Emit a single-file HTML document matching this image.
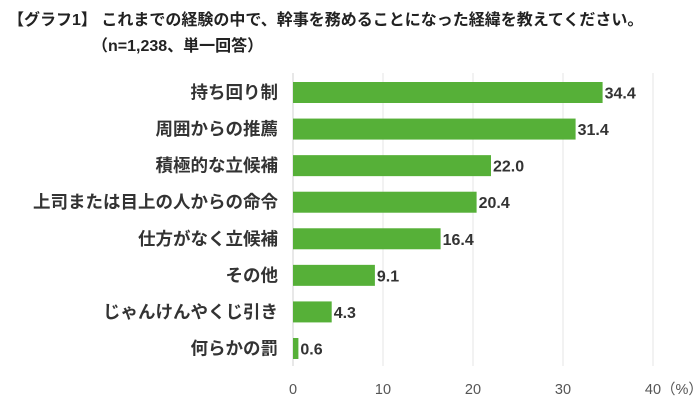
<!DOCTYPE html>
<html><head><meta charset="utf-8"><style>
body{margin:0;background:#fff;}
svg{display:block;font-family:"Liberation Sans","Noto Sans CJK JP",sans-serif;}
</style></head><body>
<svg id="chart" width="700" height="417" viewBox="0 0 700 417">
<text x="8" y="25" font-size="16" font-weight="bold" fill="#222">【グラフ1】 これまでの経験の中で、幹事を務めることになった経緯を教えてください。</text>
<text x="92" y="51" font-size="16" font-weight="bold" fill="#222">（n=1,238、単一回答）</text>
<g id="grid"></g><g id="bars"></g><g id="labels"></g>
</svg>
<script>
const categories=["持ち回り制","周囲からの推薦","積極的な立候補","上司または目上の人からの命令","仕方がなく立候補","その他","じゃんけんやくじ引き","何らかの罰"];
const values=[34.4,31.4,22.0,20.4,16.4,9.1,4.3,0.6];
const ticks=[0,10,20,30,40];
const NS="http://www.w3.org/2000/svg";
const x0=293,pxPer=9,y0=92.5,step=36.57,bh=21;
const xs=v=>x0+v*pxPer, ys=i=>y0+i*step;
function mk(t,a,p){const e=document.createElementNS(NS,t);for(const k in a)e.setAttribute(k,a[k]);p.appendChild(e);return e;}
const g=document.getElementById('grid'),b=document.getElementById('bars'),l=document.getElementById('labels');
ticks.forEach(t=>{
 const ln=mk('line',{x1:xs(t),x2:xs(t),y1:73,y2:366,stroke:t===0?'#d0d0d0':'#e6e6e6','stroke-width':1},g);
 
 
 const tx=mk('text',{x:xs(t),y:394,'font-size':14.5,fill:'#555','text-anchor':'middle'},g);
 tx.textContent=t;
 
 
});
const pct=mk('text',{x:xs(40)+8,y:394,'font-size':14.5,fill:'#555'},g);
pct.textContent='（%）';


categories.forEach((c,i)=>{
 const r=mk('rect',{x:x0,y:ys(i)-bh/2,width:xs(values[i])-x0,height:bh,fill:'#56b038'},b);
 
 
 const v=mk('text',{x:xs(values[i])+2,y:ys(i)+6,'font-size':16,'font-weight':'bold',fill:'#333'},l);
 v.textContent=values[i].toFixed(1);
 
 
 const ct=mk('text',{x:278,y:ys(i)+6,'font-size':17.5,'font-weight':'bold',fill:'#333','text-anchor':'end'},l);
 ct.textContent=c;
 
 
});
</script>
</body></html>
